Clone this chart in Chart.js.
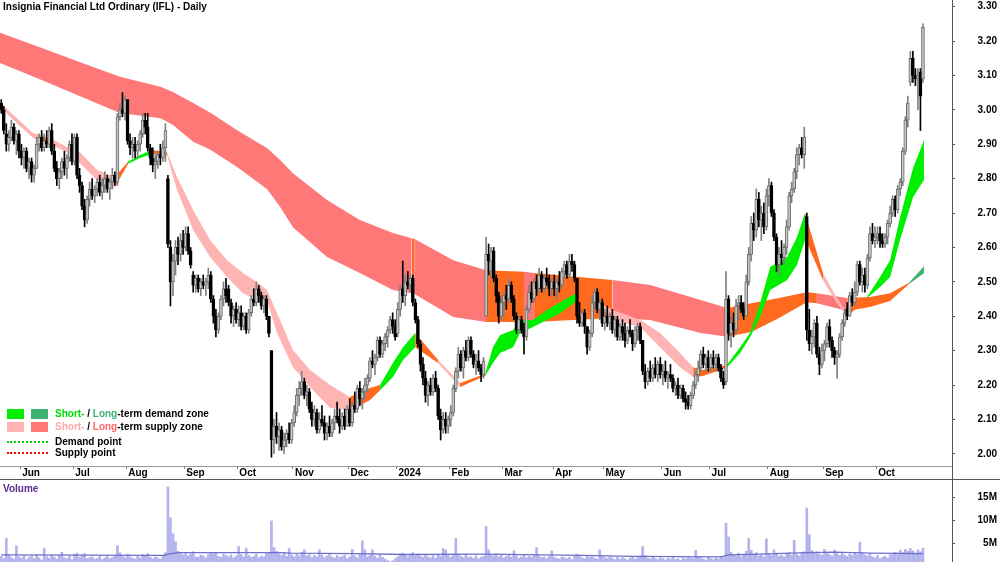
<!DOCTYPE html>
<html><head><meta charset="utf-8">
<script src="https://cdn.jsdelivr.net/npm/chart.js@4.4.1/dist/chart.umd.min.js"></script>
<style>
html,body{margin:0;padding:0;background:#fff;}
#wrap{position:relative;width:1000px;height:562px;overflow:hidden;font-family:"Liberation Sans",Arial,sans-serif;}
canvas{position:absolute;left:0;}
.t{position:absolute;font-weight:bold;font-size:10px;line-height:12px;white-space:nowrap;color:#000;}
.sw{position:absolute;width:17px;height:10px;}
.dot{position:absolute;width:41px;height:0;border-top:2px dotted;}
</style></head><body>
<div id="wrap">
<canvas id="price" width="1000" height="480" style="top:0"></canvas>
<canvas id="vol" width="1000" height="82" style="top:480px"></canvas>
<div class="t" style="left:3px;top:1px">Insignia Financial Ltd Ordinary (IFL) - Daily</div>
<div class="sw" style="left:7px;top:409px;background:#00ee00"></div>
<div class="sw" style="left:31px;top:409px;background:#3cb371"></div>
<div class="t" style="left:55px;top:408px"><span style="color:#00dd00">Short-</span> / <span style="color:#3cb371">Long</span>-term demand zone</div>
<div class="sw" style="left:7px;top:422px;background:#ffb4b4"></div>
<div class="sw" style="left:31px;top:422px;background:#ff7777"></div>
<div class="t" style="left:55px;top:421px"><span style="color:#ffaaaa">Short-</span> / <span style="color:#ff6666">Long</span>-term supply zone</div>
<div class="dot" style="left:7px;top:441px;border-color:#00cc00"></div>
<div class="t" style="left:55px;top:436px">Demand point</div>
<div class="dot" style="left:7px;top:452px;border-color:#ff0000"></div>
<div class="t" style="left:55px;top:447px">Supply point</div>
<div class="t" style="left:3px;top:483px;color:#5b2c8f">Volume</div>
</div>
<script>
// ---- categories / ticks ----
const monthStarts = [8,29,50,73,94,116,138,157,178,199,219,239,262,281,304,326,347];
const monthLabels = ['Jun','Jul','Aug','Sep','Oct','Nov','Dec','2024','Feb','Mar','Apr','May','Jun','Jul','Aug','Sep','Oct'];
const priceTicks = [2.0,2.1,2.2,2.3,2.4,2.5,2.6,2.7,2.8,2.9,3.0,3.1,3.2,3.3];
const volTicks = [5,10,15];

// ---- daily OHLC (22 May 2023 - 25 Oct 2024) ----
const open = [
3.02,3.00,2.93,2.90,2.92,2.95,2.91,2.93,
2.88,2.86,2.88,2.83,2.85,2.81,2.83,2.90,2.92,2.89,2.91,2.90,2.94,2.88,2.83,2.80,2.82,2.85,2.83,2.86,2.90,
2.85,2.92,2.81,2.78,2.72,2.68,2.74,2.77,2.75,2.77,2.79,2.76,2.78,2.80,2.77,2.79,2.81,2.79,2.98,3.00,2.99,
3.03,2.91,2.89,2.90,2.88,2.90,2.93,2.97,2.95,2.89,2.86,2.84,2.85,2.87,2.86,2.89,2.80,2.60,2.50,2.56,2.60,2.58,2.62,
2.60,2.64,2.59,2.52,2.49,2.51,2.48,2.50,2.49,2.50,2.52,2.45,2.40,2.36,2.40,2.45,2.48,2.48,2.44,2.40,2.42,
2.39,2.41,2.37,2.40,2.36,2.41,2.45,2.44,2.48,2.46,2.43,2.45,2.40,2.30,2.04,2.08,2.05,2.07,2.02,2.04,2.06,2.04,
2.09,2.12,2.17,2.19,2.21,2.17,2.18,2.13,2.10,2.12,2.07,2.10,2.09,2.06,2.08,2.06,2.09,2.11,2.10,2.08,2.11,2.08,
2.13,2.09,2.14,2.13,2.19,2.16,2.18,2.20,2.22,2.27,2.26,2.28,2.33,2.29,2.32,2.34,2.36,2.39,2.37,
2.35,2.42,2.48,2.46,2.50,2.49,2.51,2.44,2.39,2.32,2.26,2.22,2.17,2.20,2.18,2.22,2.19,2.11,2.07,2.10,2.08,
2.10,2.12,2.19,2.24,2.29,2.25,2.30,2.28,2.33,2.29,2.26,2.27,2.25,2.23,2.40,2.58,2.56,2.59,2.51,2.46,2.40,
2.44,2.46,2.45,2.49,2.45,2.40,2.36,2.39,2.36,2.34,2.42,2.47,2.45,2.50,2.48,2.52,2.48,2.51,2.50,2.48,
2.50,2.48,2.50,2.49,2.53,2.55,2.52,2.56,2.55,2.51,2.40,2.38,2.41,2.37,2.31,2.35,2.44,2.47,2.42,2.44,
2.38,2.40,2.38,2.40,2.36,2.39,2.34,2.37,2.35,2.33,2.36,2.35,2.32,2.36,2.37,2.33,2.24,2.21,2.24,2.22,2.25,2.23,2.26,
2.23,2.24,2.22,2.23,2.22,2.19,2.20,2.17,2.19,2.16,2.15,2.14,2.17,2.20,2.23,2.25,2.29,2.26,2.28,
2.25,2.28,2.26,2.28,2.25,2.22,2.21,2.45,2.35,2.38,2.36,2.43,2.44,2.42,2.40,2.50,2.58,2.67,2.65,2.74,2.68,2.70,2.66,
2.75,2.78,2.70,2.63,2.55,2.58,2.57,2.60,2.66,2.75,2.77,2.82,2.87,2.89,2.87,2.69,2.36,2.32,2.34,2.38,2.29,2.26,
2.30,2.32,2.37,2.33,2.30,2.28,2.29,2.34,2.38,2.42,2.40,2.46,2.44,2.47,2.55,2.50,2.52,2.49,2.57,2.64,2.62,
2.63,2.64,2.62,2.61,2.63,2.67,2.70,2.74,2.71,2.77,2.79,2.88,2.97,3.08,3.15,3.10,3.09,3.11,3.09];
const high = [
3.03,3.01,2.96,2.94,2.97,2.96,2.94,2.94,
2.90,2.89,2.89,2.86,2.86,2.84,2.92,2.93,2.94,2.93,2.94,2.95,2.96,2.90,2.85,2.83,2.86,2.88,2.87,2.91,2.93,
2.93,2.93,2.83,2.79,2.74,2.75,2.79,2.80,2.78,2.80,2.81,2.80,2.82,2.81,2.80,2.83,2.82,2.99,3.02,3.05,3.04,
3.03,2.93,2.92,2.92,2.91,2.94,2.99,2.99,2.99,2.90,2.89,2.87,2.88,2.90,2.91,2.96,2.81,2.62,2.58,2.62,2.63,2.64,2.65,
2.66,2.66,2.60,2.53,2.52,2.52,2.51,2.52,2.51,2.54,2.53,2.46,2.42,2.41,2.46,2.50,2.51,2.49,2.45,2.43,2.44,
2.43,2.43,2.41,2.41,2.42,2.46,2.48,2.50,2.49,2.47,2.46,2.46,2.40,2.30,2.10,2.12,2.09,2.08,2.06,2.07,2.09,2.10,
2.14,2.19,2.21,2.24,2.22,2.20,2.19,2.15,2.14,2.13,2.12,2.14,2.11,2.09,2.11,2.10,2.13,2.15,2.13,2.12,2.13,2.14,
2.16,2.15,2.18,2.20,2.21,2.19,2.22,2.23,2.28,2.30,2.29,2.34,2.34,2.33,2.35,2.37,2.40,2.41,2.39,
2.44,2.49,2.56,2.52,2.53,2.52,2.52,2.45,2.40,2.33,2.28,2.24,2.21,2.22,2.23,2.24,2.20,2.13,2.12,2.12,2.11,
2.14,2.20,2.25,2.31,2.30,2.31,2.33,2.34,2.34,2.30,2.29,2.30,2.26,2.28,2.63,2.61,2.60,2.60,2.52,2.47,2.45,
2.47,2.49,2.51,2.50,2.46,2.41,2.40,2.40,2.38,2.43,2.49,2.50,2.51,2.52,2.54,2.53,2.52,2.54,2.52,2.51,
2.52,2.51,2.53,2.54,2.56,2.56,2.58,2.58,2.56,2.51,2.44,2.42,2.42,2.37,2.36,2.46,2.48,2.48,2.45,2.45,
2.42,2.43,2.41,2.42,2.40,2.40,2.38,2.39,2.38,2.37,2.39,2.36,2.37,2.38,2.38,2.33,2.26,2.25,2.27,2.26,2.28,2.27,2.28,
2.26,2.27,2.24,2.26,2.23,2.21,2.22,2.20,2.20,2.18,2.17,2.18,2.21,2.24,2.27,2.30,2.31,2.29,2.30,
2.29,2.30,2.29,2.29,2.26,2.24,2.53,2.46,2.40,2.41,2.45,2.46,2.46,2.44,2.52,2.60,2.69,2.70,2.77,2.76,2.72,2.73,2.77,
2.80,2.79,2.71,2.64,2.60,2.62,2.61,2.68,2.76,2.79,2.83,2.89,2.90,2.92,2.95,2.70,2.42,2.36,2.39,2.40,2.31,2.32,
2.33,2.38,2.39,2.34,2.31,2.30,2.35,2.39,2.42,2.44,2.47,2.48,2.50,2.56,2.56,2.54,2.54,2.58,2.66,2.67,2.66,
2.66,2.66,2.64,2.64,2.68,2.72,2.75,2.75,2.78,2.80,2.89,2.98,3.04,3.17,3.17,3.12,3.12,3.12,3.25];
const low = [
2.99,2.93,2.88,2.88,2.91,2.90,2.87,2.86,
2.84,2.83,2.82,2.80,2.79,2.79,2.83,2.88,2.88,2.88,2.89,2.89,2.87,2.82,2.78,2.77,2.80,2.81,2.80,2.85,2.84,
2.84,2.80,2.76,2.71,2.66,2.67,2.72,2.74,2.73,2.75,2.75,2.74,2.76,2.76,2.74,2.77,2.78,2.78,2.97,2.98,2.97,
2.90,2.87,2.86,2.86,2.86,2.88,2.92,2.93,2.88,2.84,2.82,2.80,2.83,2.84,2.85,2.85,2.60,2.43,2.46,2.52,2.55,2.56,2.58,
2.59,2.58,2.54,2.47,2.47,2.47,2.46,2.48,2.46,2.48,2.44,2.38,2.34,2.35,2.39,2.43,2.44,2.43,2.38,2.37,2.38,
2.37,2.36,2.36,2.35,2.35,2.40,2.43,2.43,2.44,2.42,2.41,2.39,2.34,1.99,2.00,2.03,2.01,2.01,2.00,2.02,2.03,2.03,
2.08,2.11,2.14,2.17,2.16,2.14,2.12,2.08,2.08,2.06,2.06,2.08,2.04,2.04,2.05,2.05,2.07,2.09,2.06,2.07,2.07,2.08,
2.08,2.08,2.12,2.12,2.14,2.13,2.16,2.18,2.21,2.25,2.23,2.27,2.28,2.28,2.30,2.31,2.35,2.35,2.33,
2.34,2.40,2.44,2.43,2.48,2.47,2.43,2.38,2.31,2.24,2.20,2.15,2.14,2.17,2.17,2.18,2.10,2.04,2.06,2.06,2.06,
2.08,2.11,2.18,2.22,2.24,2.22,2.27,2.27,2.28,2.25,2.23,2.24,2.21,2.22,2.40,2.52,2.51,2.50,2.44,2.38,2.39,
2.40,2.42,2.44,2.44,2.39,2.35,2.35,2.35,2.29,2.33,2.41,2.44,2.44,2.46,2.47,2.47,2.47,2.49,2.46,2.46,
2.46,2.45,2.47,2.48,2.51,2.51,2.51,2.53,2.50,2.38,2.37,2.37,2.35,2.29,2.30,2.34,2.42,2.41,2.39,2.37,
2.36,2.37,2.36,2.35,2.34,2.33,2.33,2.33,2.31,2.32,2.34,2.30,2.31,2.33,2.32,2.23,2.19,2.20,2.21,2.21,2.22,2.21,2.22,
2.20,2.21,2.19,2.21,2.18,2.17,2.16,2.16,2.15,2.13,2.13,2.13,2.16,2.19,2.21,2.24,2.25,2.24,2.24,
2.24,2.25,2.24,2.24,2.21,2.19,2.20,2.33,2.31,2.34,2.35,2.39,2.41,2.39,2.40,2.49,2.56,2.62,2.63,2.66,2.62,2.64,2.65,
2.72,2.69,2.62,2.53,2.52,2.55,2.55,2.58,2.65,2.73,2.76,2.80,2.84,2.86,2.83,2.33,2.30,2.29,2.31,2.28,2.23,2.25,
2.27,2.31,2.31,2.28,2.26,2.22,2.28,2.33,2.37,2.39,2.40,2.43,2.43,2.46,2.49,2.47,2.47,2.48,2.56,2.61,2.60,
2.61,2.60,2.60,2.60,2.61,2.66,2.69,2.69,2.70,2.75,2.78,2.87,2.95,3.07,3.08,3.07,3.00,2.94,3.08];
const close = [
3.00,2.94,2.90,2.92,2.95,2.91,2.93,2.88,
2.86,2.88,2.83,2.85,2.81,2.83,2.90,2.92,2.89,2.91,2.90,2.94,2.88,2.83,2.80,2.82,2.85,2.83,2.86,2.90,2.85,
2.92,2.81,2.78,2.72,2.68,2.74,2.77,2.75,2.77,2.79,2.76,2.78,2.80,2.77,2.79,2.81,2.79,2.98,3.00,2.99,3.03,
2.91,2.89,2.90,2.88,2.90,2.93,2.97,2.95,2.89,2.86,2.84,2.85,2.87,2.86,2.89,2.94,2.61,2.50,2.56,2.60,2.58,2.62,2.60,
2.64,2.59,2.55,2.49,2.51,2.48,2.50,2.49,2.50,2.52,2.45,2.40,2.36,2.40,2.45,2.48,2.46,2.44,2.40,2.42,2.39,
2.41,2.37,2.40,2.36,2.41,2.45,2.44,2.48,2.46,2.43,2.45,2.40,2.35,2.04,2.08,2.05,2.07,2.02,2.04,2.06,2.04,2.09,
2.12,2.17,2.19,2.21,2.17,2.18,2.13,2.10,2.12,2.07,2.10,2.09,2.06,2.08,2.06,2.09,2.11,2.10,2.08,2.11,2.08,2.13,
2.09,2.14,2.13,2.19,2.16,2.18,2.20,2.22,2.27,2.26,2.28,2.33,2.29,2.32,2.34,2.36,2.39,2.37,2.34,
2.42,2.48,2.46,2.50,2.49,2.51,2.44,2.39,2.32,2.26,2.22,2.17,2.20,2.18,2.22,2.19,2.11,2.07,2.10,2.08,2.10,
2.12,2.19,2.24,2.29,2.25,2.30,2.28,2.33,2.29,2.26,2.27,2.25,2.23,2.27,2.58,2.56,2.59,2.51,2.46,2.40,2.44,
2.46,2.45,2.49,2.45,2.40,2.36,2.39,2.36,2.34,2.42,2.47,2.45,2.50,2.48,2.52,2.48,2.51,2.50,2.48,2.50,
2.48,2.50,2.49,2.53,2.55,2.52,2.56,2.55,2.51,2.40,2.38,2.41,2.37,2.31,2.35,2.44,2.47,2.42,2.44,2.38,
2.40,2.38,2.40,2.36,2.39,2.34,2.37,2.35,2.33,2.36,2.35,2.32,2.36,2.37,2.33,2.24,2.21,2.24,2.22,2.25,2.23,2.26,2.23,
2.24,2.22,2.23,2.22,2.19,2.20,2.17,2.19,2.16,2.15,2.14,2.17,2.20,2.23,2.25,2.29,2.26,2.28,2.25,
2.28,2.26,2.28,2.25,2.22,2.20,2.45,2.35,2.38,2.36,2.43,2.44,2.42,2.40,2.50,2.58,2.67,2.65,2.74,2.68,2.70,2.66,2.75,
2.78,2.70,2.63,2.55,2.58,2.57,2.60,2.66,2.75,2.77,2.82,2.87,2.89,2.87,2.92,2.36,2.32,2.34,2.38,2.29,2.26,2.30,
2.32,2.37,2.33,2.30,2.28,2.29,2.34,2.38,2.41,2.40,2.46,2.44,2.47,2.55,2.50,2.52,2.49,2.57,2.64,2.62,2.63,
2.64,2.62,2.61,2.63,2.67,2.70,2.74,2.71,2.77,2.79,2.88,2.97,3.02,3.15,3.10,3.09,3.10,3.04,3.24];

// ---- daily volume (millions) ----
const volume = [
2.1,1.6,6.0,2.4,1.8,1.5,4.4,2.0,1.7,2.3, 1.4,1.9,2.2,1.6,2.5,1.8,1.3,3.8,2.0,1.7,
2.4,1.9,1.5,2.2,3.0,1.8,1.6,2.1,1.4,2.6, 2.8,1.9,2.3,2.7,1.6,1.8,2.0,1.5,1.7,2.2,
1.4,1.8,2.1,1.6,1.9,2.3,4.4,2.9,2.2,1.8, 2.6,2.0,1.7,1.5,2.1,1.8,2.5,2.2,2.7,1.9,
1.6,2.0,1.8,1.5,2.3,2.9,17.2,10.5,7.0,5.3, 3.2,2.8,2.4,3.0,2.2,2.6,3.1,2.0,1.9,2.4,
2.2,1.8,2.5,2.9,2.7,3.0,2.1,1.9,2.6,2.3, 2.0,2.4,1.8,2.2,4.2,2.5,2.0,3.8,2.3,1.9,
2.1,2.6,1.8,2.2,2.0,2.7,3.0,9.8,4.0,3.2, 2.6,2.3,2.9,2.1,3.8,2.4,2.0,2.7,2.2,3.0,
3.5,2.2,2.5,1.9,2.3,2.0,3.5,2.4,1.8,2.2, 2.6,2.0,1.7,2.3,1.9,2.1,2.4,1.6,2.0,3.6,
2.2,1.8,2.5,5.5,3.5,2.0,2.3,3.5,2.1,1.7, 2.4,1.9,1.5,1.2,0.9,1.1,1.6,2.0,2.6,2.8,
2.3,2.0,2.5,2.9,2.2,2.6,2.1,1.9,2.4,2.0, 1.8,2.2,1.7,2.5,2.1,3.8,3.5,2.3,1.9,2.4,
6.0,2.6,2.1,1.8,2.3,1.9,2.0,1.7,2.2,1.6, 1.9,2.1,8.6,3.5,2.4,2.2,2.7,2.0,2.3,1.8,
2.1,2.5,1.9,3.3,2.2,1.7,2.0,2.4,1.8,2.1, 1.9,2.3,4.0,2.2,1.8,2.0,1.6,2.1,3.3,1.9,
1.7,1.5,2.0,1.8,1.6,1.9,1.4,2.1,2.6,2.2, 1.8,1.6,2.3,1.9,2.0,1.7,1.5,3.5,2.1,1.8,
1.6,2.0,1.7,1.4,1.9,1.5,1.8,1.6,1.3,1.7, 1.9,1.5,1.8,2.2,4.2,2.3,1.7,1.5,1.9,1.6,
1.4,1.8,1.6,1.3,1.7,1.5,1.9,1.4,1.6,1.2, 1.8,1.5,2.0,1.7,1.6,3.4,2.1,1.8,1.5,1.3,
1.9,1.6,1.4,1.7,1.5,2.0,1.8,9.3,6.3,3.0, 2.5,2.2,2.8,2.0,2.4,3.2,6.0,3.4,2.6,2.9,
2.2,2.5,2.0,5.9,2.7,2.3,3.5,2.8,2.1,2.4, 2.0,2.6,2.9,2.3,5.6,2.5,2.2,2.8,3.1,12.6,
6.8,3.4,2.9,3.1,2.6,2.4,3.6,2.8,2.5,2.2, 3.5,2.7,2.3,2.9,2.4,2.1,2.6,2.3,2.8,2.5,
5.2,2.9,2.4,2.2,2.7,2.0,1.8,2.3,1.6,1.9, 2.1,1.7,2.4,2.6,3.0,2.5,3.4,2.9,3.6,3.2,
3.8,3.3,2.8,3.5,3.1,3.9];
const volAvgIdx = [0,65,66,70,110,115,140,160,192,230,250,285,288,300,319,330,345,365];
const volAvg    = [2.4,2.3,2.6,2.9,2.9,2.8,2.7,2.5,2.6,2.3,2.1,2.0,2.4,2.6,2.9,3.0,2.8,2.7];

// ---- long-term zone edges (read at these bar positions) ----
const ltIdx   = [-0.5,15,31,47,63,68,76,83,93.4,105.2,110.4,115.5,129,142,155.1,162.5,163.5,179,192,207,211,242,257,277,287.5,297,308,319,323,335,344,352,359.5,365.5];
const ltEdgeA = [3.224,3.183,3.139,3.096,3.067,3.052,3.020,2.991,2.941,2.889,2.854,2.816,2.738,2.680,2.642,2.627,2.625,2.563,2.534,2.529,2.526,2.505,2.491,2.447,2.424,2.438,2.453,2.470,2.467,2.453,2.456,2.467,2.497,2.546];
const ltEdgeB = [3.136,3.090,3.040,2.991,2.976,2.956,2.907,2.883,2.834,2.770,2.718,2.659,2.572,2.526,2.476,2.467,2.465,2.398,2.383,2.383,2.383,2.395,2.389,2.351,2.340,2.354,2.395,2.441,2.438,2.415,2.427,2.444,2.494,2.526];
const ltState = ['S','S','S','S','S','S','S','S','S','S','S','S','S','S','S','T','S','S','T','S','T','S','S','S','T','T','T','T','S','T','T','T','D'];

// ---- short-term zone edges ----
const stIdx   = [-0.5,3.5,12.6,16.5,20.1,26.0,31.2,37.9,45.0,50.2,55.0,59.7,65.6,69.6,76.0,82.7,89.4,95.7,101.3,105.2,109.2,115.5,122.3,130.2,138.1,146.0,150.0,155.1,159.1,163.9,173.0,181.7,191.6,194.7,197.5,202.7,205.4,210.6,216.1,221.3,228.4,237.1,242.3,253.0,260.9,268.8,274.0,277.9,287.3,292.6,296.5,300.5,304.5,311.2,315.1,318.3,319.1,325.4,330.2,334.9,342.9,348,352,355.9,361.1,365.4];
const stEdgeA = [3.023,2.994,2.933,2.924,2.915,2.892,2.877,2.825,2.805,2.849,2.869,2.883,2.877,2.805,2.709,2.622,2.563,2.526,2.499,2.476,2.409,2.302,2.244,2.200,2.165,2.191,2.200,2.264,2.310,2.351,2.273,2.206,2.232,2.310,2.345,2.360,2.389,2.389,2.418,2.441,2.470,2.438,2.418,2.389,2.351,2.293,2.252,2.244,
                 2.258,2.310,2.351,2.438,2.543,2.572,2.630,2.700,2.680,2.526,2.462,2.409,2.456,2.514,2.563,2.686,2.831,2.912];
const stEdgeB = [3.011,2.979,2.918,2.909,2.898,2.877,2.845,2.796,2.776,2.843,2.860,2.872,2.869,2.767,2.651,2.572,2.514,2.467,2.447,2.447,2.351,2.252,2.194,2.133,2.127,2.156,2.185,2.223,2.273,2.310,2.264,2.194,2.226,2.264,2.293,2.310,2.351,2.369,2.389,2.409,2.447,2.430,2.389,2.369,2.310,2.252,2.223,2.226,
                 2.250,2.293,2.339,2.398,2.476,2.505,2.549,2.622,2.613,2.505,2.447,2.398,2.453,2.485,2.514,2.622,2.747,2.796];
const stState = ['S','S','S','T','S','S','S','S','T','D','D','T',
                 'S','S','S','S','S','S','S','S','S','S','S','S',
                 'T','T','D','D','D','T','S','T',
                 'D','D','D','D','D','D','D','D','T',
                 'S','S','S','S','S','T','T',
                 'D','D','D','D','D','D','D','T','T','S','S','T',
                 'D','D','D','D','D'];

// sanity
[open,high,low,volume].forEach(a=>{ if(a.length!==close.length) throw new Error('len '+a.length+' vs '+close.length); });
if (ltEdgeA.length!==ltIdx.length||ltEdgeB.length!==ltIdx.length||ltState.length!==ltIdx.length-1) throw new Error('lt '+[ltIdx.length,ltEdgeA.length,ltEdgeB.length,ltState.length]);
if (stEdgeA.length!==stIdx.length||stEdgeB.length!==stIdx.length||stState.length!==stIdx.length-1) throw new Error('st '+[stIdx.length,stEdgeA.length,stEdgeB.length,stState.length]);

// ---- styles ----
const FONT = '"Liberation Sans", Arial, sans-serif';
Chart.defaults.font.family = FONT;
const longColors  = {S:'#ff7878', T:'#ff6a1f', D:'#3cb371'};
const shortColors = {S:'#ffb4b4', T:'#ff6a1f', D:'#00ee00'};
const AXIS = '#555555';

function zoneDatasets(idx, a, b, st, colors, order){
  const out = [];
  let s = 0;
  for (let k = 1; k <= st.length; k++) {
    if (k === st.length || st[k] !== st[s]) {
      const pts = arr => arr.slice(s, k + 1).map((v, j) => ({x: idx[s + j], y: v}));
      out.push({type:'line', data:pts(a), borderColor:'rgba(0,0,0,0)', borderWidth:0, pointRadius:0, fill:false, tension:0, order});
      out.push({type:'line', data:pts(b), borderColor:'rgba(0,0,0,0)', borderWidth:0, pointRadius:0, fill:'-1', backgroundColor:colors[st[s]], tension:0, order});
      s = k;
    }
  }
  return out;
}
const isUp = i => close[i] >= open[i];

const datasets = [
  {type:'bar', data: close.map((c,i)=>({x:i, y:[low[i], high[i]]})), barThickness:1, grouped:false,
   backgroundColor: ctx => isUp(ctx.dataIndex) ? '#808080' : '#000000', order:0.5},
  {type:'bar', data: close.map((c,i)=>({x:i, y:[open[i], c]})), barThickness:3, minBarLength:1, grouped:false,
   backgroundColor: ctx => isUp(ctx.dataIndex) ? '#c6c6c6' : '#000000',
   borderColor: ctx => isUp(ctx.dataIndex) ? '#6a6a6a' : '#000000', borderWidth:1, borderSkipped:false, order:0},
  ...zoneDatasets(ltIdx, ltEdgeA, ltEdgeB, ltState, longColors, 3),
  ...zoneDatasets(stIdx, stEdgeA, stEdgeB, stState, shortColors, 2)
];

const bandLine = {
  id:'bandLine',
  afterDraw(chart){
    const c = chart.ctx, r = Math.round(chart.chartArea.right) + 0.5;
    c.save(); c.strokeStyle = AXIS; c.lineWidth = 1;
    c.beginPath(); c.moveTo(0, 479.5); c.lineTo(1000, 479.5);
    c.moveTo(r, chart.chartArea.bottom); c.lineTo(r, 480); c.stroke(); c.restore();
  }
};

const tickFont = {family: FONT, size: 10, weight: 'bold'};
const fitY = s => { s.width = 45; s.paddingTop = 0; s.paddingBottom = 0; };

new Chart(document.getElementById('price'), {
  type:'bar',
  data:{datasets},
  options:{
    responsive:false, animation:false, events:[],
    layout:{padding:{left:0, right:3, top:0, bottom:0}},
    plugins:{legend:{display:false}, tooltip:{enabled:false}},
    scales:{
      x:{type:'linear', min:-0.5, max:376.5, offset:false, position:'bottom',
         afterBuildTicks: s => { s.ticks = monthStarts.map(v => ({value: v - 0.5})); },
         afterFit: s => { s.height = 14; s.paddingLeft = 0; s.paddingRight = 0; },
         ticks:{autoSkip:false, maxRotation:0, minRotation:0, align:'start', labelOffset:2, padding:-2, color:'#000', font:tickFont,
                callback:(v, i) => monthLabels[i]},
         grid:{display:true, offset:false, drawOnChartArea:false, drawTicks:true, tickLength:3, color:'#777777'},
         border:{display:true, color:'#999999', width:1}},
      y:{type:'linear', position:'right', min:1.9645, max:3.3195,
         afterBuildTicks: s => { s.ticks = priceTicks.map(v => ({value: v})); },
         afterFit: fitY,
         ticks:{crossAlign:'far', padding:22, color:'#000', font:tickFont, callback: v => Number(v).toFixed(2)},
         grid:{drawOnChartArea:false, drawTicks:true, tickLength:3, color:AXIS},
         border:{display:true, color:AXIS, width:1}}
    }
  },
  plugins:[bandLine]
});

new Chart(document.getElementById('vol'), {
  type:'bar',
  data:{datasets:[
    {type:'line', data: volAvgIdx.map((x,k)=>({x, y: volAvg[k]})), borderColor:'#6e6ecc', borderWidth:1.3, pointRadius:0, tension:0, order:0},
    {type:'bar', data: volume.map((v,i)=>({x:i, y:v})), barThickness:2, grouped:false, backgroundColor:'#b2b2ec', order:1}
  ]},
  options:{
    responsive:false, animation:false, events:[],
    layout:{padding:{left:0, right:3, top:0, bottom:0}},
    plugins:{legend:{display:false}, tooltip:{enabled:false}},
    scales:{
      x:{type:'linear', min:-0.5, max:376.5, offset:false, display:false},
      y:{type:'linear', position:'right', min:0.87, max:18.7,
         afterBuildTicks: s => { s.ticks = volTicks.map(v => ({value: v})); },
         afterFit: fitY,
         ticks:{crossAlign:'far', padding:22, color:'#000', font:tickFont, callback: v => v + 'M'},
         grid:{drawOnChartArea:false, drawTicks:true, tickLength:3, color:AXIS},
         border:{display:true, color:AXIS, width:1}}
    }
  }
});
</script>
</body></html>
